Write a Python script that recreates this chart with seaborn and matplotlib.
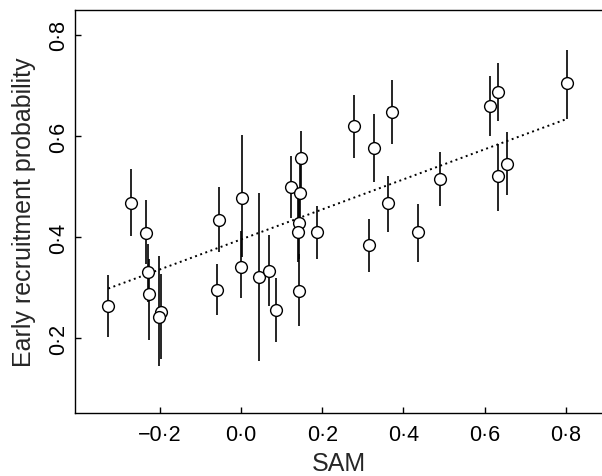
import pandas as pd
import seaborn as sns
import matplotlib.pyplot as plt

# SAM index and early recruitment probability, with interval ends
sam = [-0.327, -0.271, -0.234, -0.229, -0.227, -0.197, -0.201, -0.060, -0.055,
       0.002, 0.000, 0.045, 0.070, 0.085, 0.122, 0.148, 0.145, 0.142, 0.140,
       0.143, 0.188, 0.277, 0.328, 0.371, 0.314, 0.361, 0.437, 0.490, 0.612,
       0.634, 0.632, 0.654, 0.803]
prob = [0.263, 0.467, 0.408, 0.331, 0.288, 0.252, 0.241, 0.296, 0.433,
        0.478, 0.341, 0.320, 0.332, 0.255, 0.500, 0.556, 0.488, 0.428, 0.410,
        0.293, 0.409, 0.619, 0.576, 0.647, 0.384, 0.467, 0.409, 0.515, 0.659,
        0.687, 0.520, 0.545, 0.704]
lower = [0.202, 0.402, 0.347, 0.271, 0.196, 0.158, 0.145, 0.246, 0.370,
         0.360, 0.279, 0.154, 0.264, 0.193, 0.438, 0.491, 0.420, 0.356, 0.350,
         0.224, 0.356, 0.556, 0.508, 0.584, 0.331, 0.409, 0.351, 0.462, 0.599,
         0.630, 0.452, 0.483, 0.634]
upper = [0.325, 0.535, 0.473, 0.386, 0.356, 0.327, 0.362, 0.347, 0.499,
         0.602, 0.412, 0.487, 0.404, 0.319, 0.561, 0.610, 0.549, 0.489, 0.475,
         0.366, 0.461, 0.681, 0.644, 0.710, 0.436, 0.521, 0.465, 0.568, 0.718,
         0.744, 0.584, 0.607, 0.770]

# fitted regression line (end points)
fit_sam = [-0.327, 0.803]
fit_prob = [0.298, 0.634]

xticks = [-0.2, 0.0, 0.2, 0.4, 0.6, 0.8]
xticklabels = ['\u22120\u00b72', '0\u00b70', '0\u00b72', '0\u00b74', '0\u00b76', '0\u00b78']
yticks = [0.2, 0.4, 0.6, 0.8]
yticklabels = ['0\u00b72', '0\u00b74', '0\u00b76', '0\u00b78']

df = pd.DataFrame({'SAM': sam, 'prob': prob, 'lo': lower, 'hi': upper})

sns.set_style('ticks')
plt.rcParams['font.family'] = ['Liberation Sans', 'DejaVu Sans']

fig = plt.figure(figsize=(6.02, 4.77), dpi=100)
ax = fig.add_axes([0.1246, 0.132, 0.8754, 0.845])

# error bars, then the dotted fit, then open circles on top
ax.vlines(df['SAM'], df['lo'], df['hi'], color='black', lw=1.2, zorder=1)
sns.lineplot(x=fit_sam, y=fit_prob, ax=ax, color='black', lw=1.4,
             linestyle=(0, (1.0, 1.8)), zorder=2)
sns.scatterplot(data=df, x='SAM', y='prob', ax=ax, s=72, color='white',
                edgecolor='black', linewidth=1.0, zorder=3)

ax.set_xlim(-0.409, 0.889)
ax.set_ylim(0.0515, 0.8495)
ax.set_xticks(xticks)
ax.set_xticklabels(xticklabels)
ax.set_yticks(yticks)
ax.set_yticklabels(yticklabels, rotation=90, va='center')

ax.spines['right'].set_visible(False)
for s in ['left', 'top', 'bottom']:
    ax.spines[s].set_linewidth(1.0)
    ax.spines[s].set_color('black')
ax.tick_params(direction='in', length=4.5, width=1.0, labelsize=15.5, colors='black')
ax.tick_params(axis='x', pad=8)
ax.tick_params(axis='y', pad=4)

ax.set_xlabel('SAM', fontsize=18, labelpad=4)
ax.set_ylabel('Early recruitment probability', fontsize=18, labelpad=9)

fig.savefig('out.png', dpi=100)
